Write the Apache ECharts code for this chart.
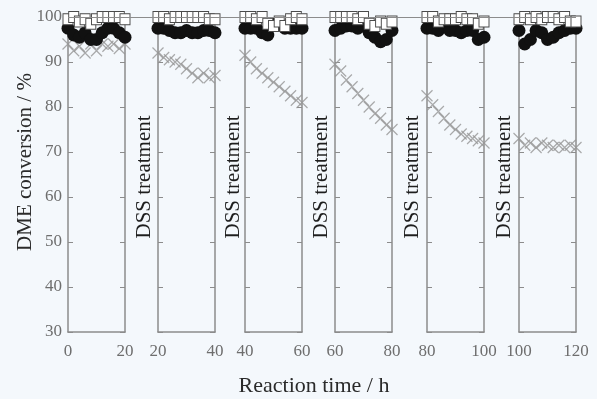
<!DOCTYPE html>
<html lang="en">
<head>
    <meta charset="UTF-8">
    <title>DME conversion vs reaction time</title>
    <script src="https://cdn.jsdelivr.net/npm/echarts@6/dist/echarts.min.js"></script>
</head>
<style>
    html, body { margin: 0; padding: 0; background: #f4f8fc; }
</style>
<body>
    <div id="chart-container" style="width: 597px; height: 399px;"></div>
    <script>
    // data
    var panelStarts = [0, 20, 40, 60, 80, 100];
    var hourOffsets = [0, 2, 4, 6, 8, 10, 12, 14, 16, 18, 20];
    var yMin = 30, yMax = 100, yStep = 10;
    var topLine = 100;

    // open squares
    var squareValues = [
        [99.5, 100, 99, 99.5, 98.5, 99.5, 100, 100, 100, 100, 99.5],
        [100, 100, 99.5, 100, 100, 100, 100, 100, 100, 99.5, 99.5],
        [100, 100, 99.5, 100, 98.5, 98, 99, 98, 99.5, 100, 99.5],
        [100, 100, 100, 100, 99.5, 100, 98.5, 98, 99, 98.5, 99],
        [100, 100, 99, 99.5, 99.5, 99.5, 100, 99.5, 99.5, 98.5, 99],
        [99.5, 100, 99.5, 100, 99.5, 100, 100, 99.5, 100, 99, 99]
    ];
    // filled circles
    var circleValues = [
        [97.5, 96, 95.5, 96.5, 95, 95, 96.5, 97.5, 97.5, 96.5, 95.5],
        [97.5, 97.5, 97, 96.5, 96.5, 97, 96.5, 96.5, 97, 97, 96.5],
        [97.5, 97.5, 97.5, 96.5, 96, 98.5, 98.5, 97.5, 97.5, 97.5, 97.5],
        [97, 97.5, 98, 98, 97.5, 98, 96.5, 95.5, 94.5, 95, 97],
        [97.5, 97.5, 97, 98, 97, 97, 96.5, 97, 97, 95, 95.5],
        [97, 94, 95, 97, 96.5, 95, 95.5, 96.5, 97, 97.5, 97.5]
    ];
    // crosses
    var crossValues = [
        [94, 92.5, 93.5, 92, 94, 92.5, 94, 93.5, 94, 93, 94],
        [92, 91, 90.5, 90, 89.5, 88.5, 87.5, 86.5, 87.5, 86.5, 87],
        [91.5, 90, 88.5, 87.5, 86.5, 85.5, 84.5, 83.5, 82.5, 81.5, 81],
        [89.5, 88, 86, 84.5, 83, 81.5, 80, 78.5, 77.5, 76, 75],
        [82.5, 80.5, 79, 77.5, 76, 75, 74, 73.5, 73, 72.5, 72],
        [73, 71.5, 72, 71, 72, 71.5, 71, 71.5, 71, 71.5, 71]
    ];
    var gapLabel = 'DSS treatment';

    // layout
    var panelLeft = [68, 158, 245, 335, 427, 519];
    var panelWidth = 57;
    var plotTop = 17, plotHeight = 315;
    var axisGray = '#8c8c8c';
    var labelGray = '#6e6e6e';
    var serif = '"Liberation Serif", "DejaVu Serif", serif';
    var crossPath = 'path://M0,0L10,10M10,0L0,10';

    function pairs(start, values) {
        return values.map(function (v, k) { return [start + hourOffsets[k], v]; });
    }

    var grids = [], xAxes = [], yAxes = [], series = [], graphics = [];

    panelStarts.forEach(function (start, i) {
        grids.push({ left: panelLeft[i], width: panelWidth, top: plotTop, height: plotHeight });
        xAxes.push({
            gridIndex: i, type: 'value', min: start, max: start + 20, interval: 20,
            axisLine: { lineStyle: { color: axisGray, width: 1.5 } },
            axisTick: { show: false },
            splitLine: { show: false },
            axisLabel: { color: labelGray, fontFamily: serif, fontSize: 17, margin: 11 }
        });
        ['left', 'right'].forEach(function (pos) {
            yAxes.push({
                gridIndex: i, type: 'value', position: pos,
                min: yMin, max: yMax, interval: yStep,
                axisLine: { show: true, lineStyle: { color: axisGray, width: 1.5 } },
                axisTick: { show: true, inside: true, length: 5, lineStyle: { color: axisGray } },
                splitLine: { show: false },
                axisLabel: {
                    show: i === 0 && pos === 'left',
                    color: labelGray, fontFamily: serif, fontSize: 17, margin: 6
                }
            });
        });
        var yIdx = i * 2;
        series.push({
            type: 'scatter', xAxisIndex: i, yAxisIndex: yIdx, z: 2,
            symbol: crossPath, symbolSize: 11,
            itemStyle: { color: 'transparent', borderColor: '#959595', borderWidth: 1.2 },
            data: pairs(start, crossValues[i])
        });
        series.push({
            type: 'scatter', xAxisIndex: i, yAxisIndex: yIdx, z: 3,
            symbol: 'circle', symbolSize: 13,
            itemStyle: { color: '#111', opacity: 1 },
            data: pairs(start, circleValues[i])
        });
        series.push({
            type: 'scatter', xAxisIndex: i, yAxisIndex: yIdx, z: 4,
            symbol: 'rect', symbolSize: [10, 11],
            itemStyle: { color: '#fff', borderColor: '#4a4a4a', borderWidth: 1, opacity: 1 },
            data: pairs(start, squareValues[i])
        });
    });

    // hidden overlay grid spanning all panels, used for the 100 % line
    var ov = panelStarts.length;
    grids.push({ left: panelLeft[0], width: panelLeft[ov - 1] + panelWidth - panelLeft[0], top: plotTop, height: plotHeight });
    xAxes.push({ gridIndex: ov, type: 'value', min: panelStarts[0], max: panelStarts[ov - 1] + 20, show: false });
    yAxes.push({ gridIndex: ov, type: 'value', min: yMin, max: yMax, show: false });
    series.push({
        type: 'line', xAxisIndex: ov, yAxisIndex: yAxes.length - 1, data: [], z: 1,
        markLine: {
            silent: true, symbol: 'none', label: { show: false },
            lineStyle: { color: axisGray, width: 1.2, type: 'solid' },
            data: [{ yAxis: topLine }]
        }
    });

    // DSS treatment labels in the gaps
    for (var g = 0; g < ov - 1; g++) {
        var gapCenter = (panelLeft[g] + panelWidth + panelLeft[g + 1]) / 2 + 3;
        graphics.push({
            type: 'text', x: gapCenter, y: 177, rotation: Math.PI / 2,
            style: { text: gapLabel, fill: '#1e1e1e', font: '21px ' + serif, align: 'center', verticalAlign: 'middle' }
        });
    }
    graphics.push({
        type: 'text', x: 25, y: 162, rotation: Math.PI / 2,
        style: { text: 'DME conversion / %', fill: '#2a2a2a', font: '21px ' + serif, align: 'center', verticalAlign: 'middle' }
    });
    graphics.push({
        type: 'text', x: 314, y: 386,
        style: { text: 'Reaction time / h', fill: '#2a2a2a', font: '22px ' + serif, align: 'center', verticalAlign: 'middle' }
    });

    var chart = echarts.init(document.getElementById('chart-container'));
    chart.setOption({
        backgroundColor: '#f4f8fc',
        animation: false,
        grid: grids,
        xAxis: xAxes,
        yAxis: yAxes,
        series: series,
        graphic: graphics
    });
    </script>
</body>
</html>
